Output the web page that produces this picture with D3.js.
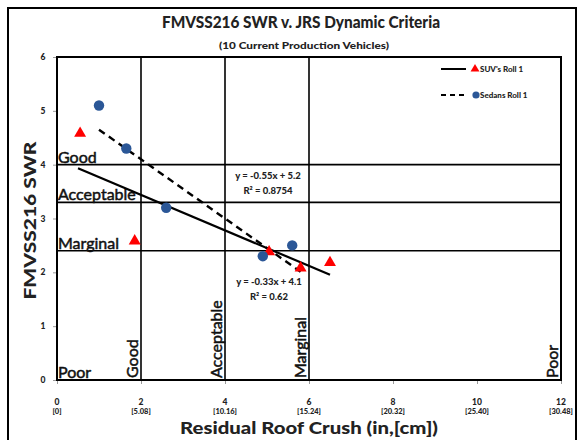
<!DOCTYPE html>
<html>
<head>
<meta charset="utf-8">
<script src="https://cdn.jsdelivr.net/npm/d3@7"></script>
<style>
  html, body { margin: 0; padding: 0; background: #fff; }
  svg { display: block; }
  text { font-family: Lato, "Liberation Sans", sans-serif; }
</style>
</head>
<body>
<svg id="chart" width="580" height="440"></svg>
<script>
// Residual roof crush (in) vs. FMVSS216 strength-to-weight ratio
const suvCrush = [0.55, 1.85, 5.05, 5.8, 6.5];
const suvSWR   = [4.6, 2.6, 2.4, 2.1, 2.2];
const sedanCrush = [1.0, 1.65, 2.6, 4.9, 5.6];
const sedanSWR   = [5.1, 4.3, 3.2, 2.3, 2.5];

// linear trend fits: [slope, intercept, xFrom, xTo]
const suvFit   = [-0.33, 4.1, 0.5, 6.5];
const sedanFit = [-0.55, 5.2, 1.0, 5.8];
const suvFitText   = ["y = -0.33x + 4.1", "R\u00B2 = 0.62"];
const sedanFitText = ["y = -0.55x + 5.2", "R\u00B2 = 0.8754"];

// rating thresholds
const swrBands = [4, 3.3, 2.4];
const swrBandLabels = ["Good", "Acceptable", "Marginal", "Poor"];
const crushBands = [2, 4, 6];
const crushBandLabels = ["Good", "Acceptable", "Marginal"];
const crushPoorLabel = ["Poor"];

const xTicks = [0, 2, 4, 6, 8, 10, 12];
const xTickCm = ["[0]", "[5.08]", "[10.16]", "[15.24]", "[20.32]", "[25.40]", "[30.48]"];
const yTicks = [0, 1, 2, 3, 4, 5, 6];

const legendLabels = ["SUV's Roll 1", "Sedans Roll 1"];

const RED = "#ff0000", BLUE = "#2b5797";

const svg = d3.select("#chart");
const x = d3.scaleLinear().domain([0, 12]).range([57, 561]);
const y = d3.scaleLinear().domain([0, 6]).range([380, 57]);

// outer frame
svg.append("rect").attr("x", 8).attr("y", 8).attr("width", 568).attr("height", 450)
  .attr("fill", "none").attr("stroke", "#000").attr("stroke-width", 2);

// titles
svg.append("text").attr("x", 301).attr("y", 28).attr("text-anchor", "middle")
  .attr("font-size", 17).attr("font-weight", 900).attr("fill", "#222")
  .attr("textLength", 278).attr("lengthAdjust", "spacingAndGlyphs")
  .text("FMVSS216 SWR v. JRS Dynamic Criteria");
svg.append("text").attr("x", 304).attr("y", 49).attr("text-anchor", "middle")
  .attr("font-size", 10).attr("font-weight", 900).attr("fill", "#222")
  .attr("textLength", 170).attr("lengthAdjust", "spacingAndGlyphs")
  .text("(10 Current Production Vehicles)");

// axes ticks
const xAxis = svg.append("g").attr("transform", `translate(0,${y(0)})`)
  .call(d3.axisBottom(x).tickValues(xTicks).tickSize(4).tickFormat(""));
xAxis.select(".domain").remove();
xAxis.selectAll("line").attr("stroke", "#999");
const yAxis = svg.append("g").attr("transform", `translate(${x(0)},0)`)
  .call(d3.axisLeft(y).tickValues(yTicks).tickSize(4).tickFormat(""));
yAxis.select(".domain").remove();
yAxis.selectAll("line").attr("stroke", "#999");

svg.append("g").selectAll("text").data(yTicks).join("text")
  .attr("x", 43).attr("y", d => y(d) + 3).attr("text-anchor", "middle")
  .attr("font-size", 8.5).attr("font-weight", 900).attr("fill", "#222").text(d => d);

const xl = svg.append("g").selectAll("g").data(xTicks).join("g")
  .attr("transform", d => `translate(${x(d)},0)`);
xl.append("text").attr("y", 405).attr("text-anchor", "middle")
  .attr("font-size", 8.5).attr("font-weight", 900).attr("fill", "#222").text(d => d);
xl.append("text").attr("y", 414).attr("text-anchor", "middle")
  .attr("font-size", 7.5).attr("font-weight", 900).attr("fill", "#222").text((d, i) => xTickCm[i]);

svg.append("text").attr("x", 309).attr("y", 434).attr("text-anchor", "middle")
  .attr("font-size", 16).attr("font-weight", 900).attr("fill", "#222")
  .attr("textLength", 258).attr("lengthAdjust", "spacingAndGlyphs")
  .text("Residual Roof Crush (in,[cm])");
svg.append("text").attr("transform", `translate(36,${(y(0) + y(6)) / 2 + 2}) rotate(-90)`)
  .attr("text-anchor", "middle").attr("font-size", 17).attr("font-weight", 900).attr("fill", "#222")
  .attr("textLength", 158).attr("lengthAdjust", "spacingAndGlyphs")
  .text("FMVSS216 SWR");

// rating band lines
svg.append("g").selectAll("line").data(swrBands).join("line")
  .attr("x1", x(0)).attr("x2", x(12)).attr("y1", d => y(d)).attr("y2", d => y(d))
  .attr("stroke", "#000").attr("stroke-width", 1.6);
svg.append("g").selectAll("line").data(crushBands).join("line")
  .attr("y1", y(0)).attr("y2", y(6)).attr("x1", d => x(d)).attr("x2", d => x(d))
  .attr("stroke", "#000").attr("stroke-width", 1.6);

// plot border
svg.append("rect").attr("x", x(0)).attr("y", y(6)).attr("width", x(12) - x(0)).attr("height", y(0) - y(6))
  .attr("fill", "none").attr("stroke", "#000").attr("stroke-width", 2);

// band labels along the SWR axis
const swrLabelPos = [...swrBands, 0];
svg.append("g").selectAll("text").data(swrBandLabels).join("text")
  .attr("x", x(0) + 1).attr("y", (d, i) => y(swrLabelPos[i]) - 2)
  .attr("font-size", 16).attr("fill", "#111").attr("stroke", "#111").attr("stroke-width", 0.5)
  .text(d => d);

// band labels along the crush axis
const crushLabelPos = [...crushBands, 12];
const crushLabels = [...crushBandLabels, ...crushPoorLabel];
svg.append("g").selectAll("text").data(crushLabels).join("text")
  .attr("transform", (d, i) => `translate(${x(crushLabelPos[i]) - 3},${y(0) - 2}) rotate(-90)`)
  .attr("font-size", 16).attr("fill", "#111").attr("stroke", "#111").attr("stroke-width", 0.5)
  .text(d => d);

// trend lines
function fitLine(f) {
  return [[f[2], f[0] * f[2] + f[1]], [f[3], f[0] * f[3] + f[1]]];
}
const line = d3.line().x(d => x(d[0])).y(d => y(d[1]));
svg.append("path").attr("d", line(fitLine(suvFit))).attr("fill", "none")
  .attr("stroke", "#000").attr("stroke-width", 2.2);
svg.append("path").attr("d", line(fitLine(sedanFit))).attr("fill", "none")
  .attr("stroke", "#000").attr("stroke-width", 2.4).attr("stroke-dasharray", "7,5");

// points
const tri = d3.symbol().type(d3.symbolTriangle).size(62);
svg.append("g").selectAll("path").data(suvCrush).join("path")
  .attr("d", tri).attr("transform", (d, i) => `translate(${x(d)},${y(suvSWR[i]) + 1})`)
  .attr("fill", RED);
svg.append("g").selectAll("circle").data(sedanCrush).join("circle")
  .attr("cx", d => x(d)).attr("cy", (d, i) => y(sedanSWR[i])).attr("r", 5.2)
  .attr("fill", BLUE);

// fit equations
function fitLabel(lines, cx, cy) {
  svg.append("g").selectAll("text").data(lines).join("text")
    .attr("x", cx).attr("y", (d, i) => cy + i * 15).attr("text-anchor", "middle")
    .attr("font-size", 9.5).attr("font-weight", 900).attr("fill", "#222").text(d => d);
}
fitLabel(sedanFitText, 268, 179);
fitLabel(suvFitText, 269, 285);

// legend
const lg = svg.append("g");
lg.append("line").attr("x1", 441).attr("x2", 466).attr("y1", 69).attr("y2", 69)
  .attr("stroke", "#000").attr("stroke-width", 2);
lg.append("path").attr("d", d3.symbol().type(d3.symbolTriangle).size(34))
  .attr("transform", "translate(475,69)").attr("fill", RED);
lg.append("line").attr("x1", 441).attr("x2", 466).attr("y1", 95).attr("y2", 95)
  .attr("stroke", "#000").attr("stroke-width", 2).attr("stroke-dasharray", "5,4");
lg.append("circle").attr("cx", 476).attr("cy", 95).attr("r", 3.6).attr("fill", BLUE);
lg.selectAll("text.lab").data(legendLabels).join("text").attr("class", "lab")
  .attr("x", 480).attr("y", (d, i) => 72 + i * 26)
  .attr("font-size", 8).attr("font-weight", 900).attr("fill", "#222").text(d => d);
</script>
</body>
</html>
